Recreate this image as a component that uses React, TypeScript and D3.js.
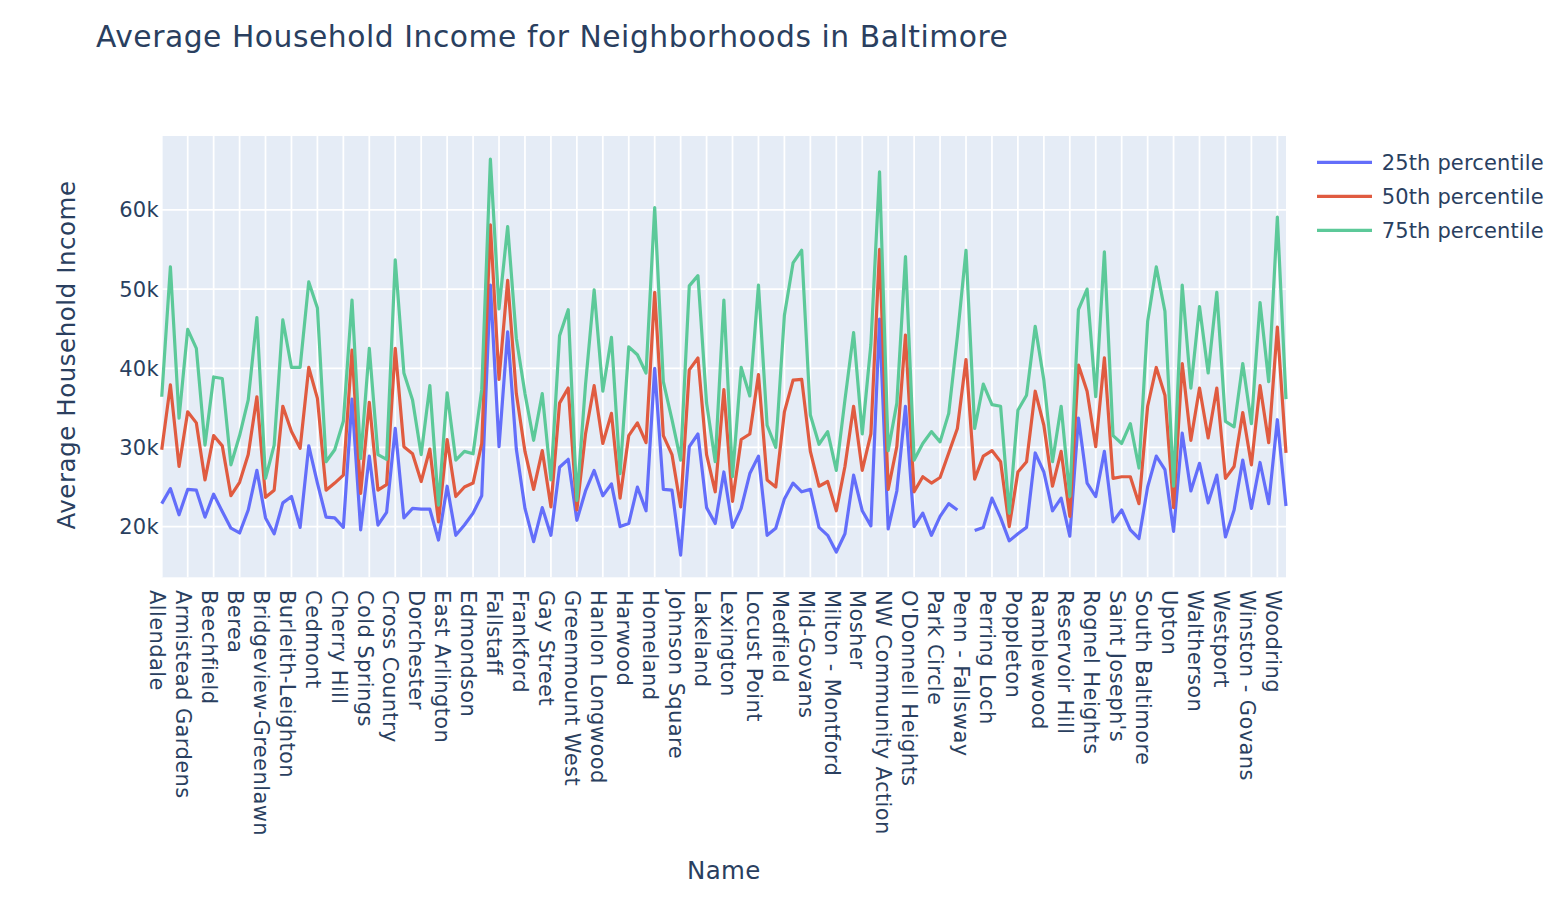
import React, { useRef, useEffect } from "react";
import * as d3 from "d3";

// neighborhoods, in the order they appear on the x axis (every 3rd one is labelled)
const names = [
  "Allendale", "Arcadia", "Arlington", "Armistead Gardens", "Ashburton", "Barclay",
  "Beechfield", "Belair-Edison", "Bellona-Gittings", "Berea", "Beverly Hills", "Bolton Hill",
  "Bridgeview-Greenlawn", "Broadway East", "Brooklyn", "Burleith-Leighton", "Butcher's Hill", "Canton",
  "Cedmont", "Central Park Heights", "Charles Village", "Cherry Hill", "Cheswolde", "Chinquapin Park",
  "Cold Springs", "Coldstream Homestead Montebello", "Coppin Heights", "Cross Country", "Cross Keys", "Dickeyville",
  "Dorchester", "Downtown", "Druid Heights", "East Arlington", "East Baltimore Midway", "Eastwood",
  "Edmondson", "Ednor Gardens", "Evergreen", "Fallstaff", "Federal Hill", "Forest Park",
  "Frankford", "Franklin Square", "Garwyn Oaks", "Gay Street", "Glen", "Govans",
  "Greenmount West", "Guilford", "Hamilton Hills", "Hanlon Longwood", "Harford-Echodale", "Harlem Park",
  "Harwood", "Highlandtown", "Hollins Market", "Homeland", "Howard Park", "Irvington",
  "Johnson Square", "Jonestown", "Lake Evesham", "Lakeland", "Lauraville", "Levindale",
  "Lexington", "Liberty Square", "Loch Raven", "Locust Point", "Loyola/Notre Dame", "Madison Park",
  "Medfield", "Medford", "Mid-Charles", "Mid-Govans", "Middle East", "Midtown-Edmondson",
  "Milton - Montford", "Mondawmin", "Morrell Park", "Mosher", "Mount Vernon", "Mount Washington",
  "NW Community Action", "New Northwood", "Northwood", "O'Donnell Heights", "Oakenshawe", "Oliver",
  "Park Circle", "Patterson Park", "Pen Lucy", "Penn - Fallsway", "Penrose/Fayette Street", "Perkins Homes",
  "Perring Loch", "Pimlico Good Neighbors", "Pleasant View Gardens", "Poppleton", "Purnell", "Radnor-Winston",
  "Ramblewood", "Ravenwood", "Remington", "Reservoir Hill", "Ridgely's Delight", "Riverside",
  "Rognel Heights", "Roland Park", "Rosemont", "Saint Joseph's", "Sandtown-Winchester", "Sharp-Leadenhall",
  "South Baltimore", "Stonewood-Pentwood-Winston", "Union Square", "Upton", "Violetville", "Walbrook",
  "Waltherson", "Washington Village", "Waverly", "Westport", "Wilson Park", "Windsor Hills",
  "Winston - Govans", "Woodberry", "Woodbourne-McCabe", "Woodring", "Yale Heights",
];

// average household income, in thousands of dollars
const p25 = [
  22.9, 24.8, 21.5, 24.7, 24.6, 21.2, 24.1, 21.9, 19.8, 19.2, 22.1, 27.1, 21.1, 19.1, 23.0, 23.8,
  19.9, 30.2, 25.5, 21.2, 21.1, 19.9, 36.1, 19.6, 28.9, 20.2, 21.8, 32.4, 21.1, 22.3, 22.2, 22.2,
  18.3, 25.1, 18.9, 20.2, 21.7, 23.9, 50.5, 30.1, 44.6, 29.8, 22.3, 18.1, 22.4, 18.9, 27.5, 28.5,
  20.8, 24.5, 27.1, 23.9, 25.4, 20.0, 20.4, 25.0, 22.0, 40.0, 24.7, 24.6, 16.4, 30.1, 31.7, 22.4,
  20.4, 26.9, 19.9, 22.3, 26.7, 28.9, 18.9, 19.8, 23.5, 25.5, 24.4, 24.7, 19.9, 18.9, 16.8, 19.1,
  26.5, 22.0, 20.1, 46.2, 19.7, 24.5, 35.2, 20.0, 21.7, 18.9, 21.3, 22.9, 22.1, null, 19.5, 19.9,
  23.6, 21.1, 18.2, 19.1, 19.9, 29.3, 26.9, 22.0, 23.6, 18.8, 33.7, 25.5, 23.8, 29.5, 20.6, 22.1,
  19.6, 18.5, 25.0, 28.9, 27.2, 19.4, 31.8, 24.5, 28.0, 23.0, 26.5, 18.7, 22.1, 28.4, 22.3, 28.1,
  22.9, 33.5, 22.6,
];
const p50 = [
  29.7, 37.9, 27.6, 34.5, 33.1, 25.9, 31.5, 30.2, 23.9, 25.6, 29.1, 36.4, 23.7, 24.6, 35.2, 32.0,
  29.9, 40.1, 36.2, 24.6, 25.5, 26.5, 42.3, 24.2, 35.7, 24.6, 25.3, 42.5, 30.1, 29.2, 25.7, 29.8,
  20.6, 31.0, 23.8, 25.0, 25.5, 30.5, 58.1, 38.6, 51.1, 36.8, 29.5, 24.7, 29.6, 22.5, 35.6, 37.5,
  22.1, 31.7, 37.8, 30.5, 34.3, 23.6, 31.5, 33.1, 30.6, 49.6, 31.5, 29.1, 22.5, 39.8, 41.3, 29.1,
  24.4, 37.3, 23.2, 31.0, 31.7, 39.2, 25.9, 25.0, 34.5, 38.5, 38.6, 29.5, 25.1, 25.7, 22.0, 27.6,
  35.2, 27.1, 31.7, 55.0, 24.7, 30.1, 44.2, 24.4, 26.3, 25.5, 26.2, 29.3, 32.4, 41.1, 26.0, 28.9,
  29.6, 28.2, 20.0, 26.9, 28.2, 37.1, 32.8, 25.1, 29.5, 21.3, 40.4, 37.1, 30.1, 41.3, 26.1, 26.3,
  26.3, 22.9, 35.2, 40.1, 36.6, 22.4, 40.6, 30.9, 37.5, 31.2, 37.5, 26.1, 27.6, 34.4, 27.8, 37.8,
  30.6, 45.2, 29.3,
];
const p75 = [
  36.4, 52.8, 33.7, 44.9, 42.5, 30.3, 38.9, 38.7, 27.8, 31.5, 36.0, 46.4, 26.1, 30.3, 46.1, 40.1,
  40.1, 50.9, 47.6, 28.2, 29.7, 33.3, 48.6, 28.6, 42.5, 29.1, 28.5, 53.7, 39.4, 36.0, 29.1, 37.8,
  22.7, 36.9, 28.4, 29.5, 29.2, 37.3, 66.4, 47.5, 57.9, 43.8, 36.8, 30.9, 36.8, 25.9, 44.1, 47.4,
  23.3, 37.9, 49.9, 37.1, 43.9, 26.7, 42.7, 41.7, 39.4, 60.3, 38.3, 33.5, 28.4, 50.4, 51.7, 35.6,
  28.2, 48.6, 26.3, 40.1, 36.5, 50.5, 32.8, 30.0, 46.7, 53.3, 54.9, 34.1, 30.4, 32.0, 27.1, 36.0,
  44.5, 31.7, 43.0, 64.8, 29.6, 35.6, 54.1, 28.4, 30.5, 32.0, 30.7, 34.3, 44.0, 54.9, 32.4, 38.0,
  35.4, 35.2, 21.7, 34.7, 36.6, 45.3, 38.5, 28.2, 35.2, 23.8, 47.4, 50.0, 36.4, 54.7, 31.5, 30.5,
  33.0, 27.4, 45.9, 52.8, 47.2, 25.1, 50.5, 37.5, 47.8, 39.4, 49.6, 33.3, 32.6, 40.6, 33.0, 48.3,
  38.3, 59.1, 36.1,
];

const seriesNames = ["25th percentile", "50th percentile", "75th percentile"];
const seriesColors = ["#636efa", "#e05b40", "#5cc999"];
const yTicks = [20000, 30000, 40000, 50000, 60000];

const App: React.FC = () => {
  const svgRef = useRef<SVGSVGElement | null>(null);

  useEffect(() => {
    if (!svgRef.current) return;
    document.body.style.margin = "0";

    const width = 1560;
    const height = 904;
    const left = 161.75, right = 1286, top = 136, bottom = 577.3;
    const textColor = "#2a3f5f";
    const font = "'DejaVu Sans', Verdana, sans-serif";

    const svg = d3.select(svgRef.current);
    svg.selectAll("*").remove();
    svg.attr("width", width).attr("height", height)
      .attr("viewBox", `0 0 ${width} ${height}`)
      .style("font-family", font);

    const x = d3.scalePoint<string>().domain(names).range([left, right]);
    const y = d3.scaleLinear().domain([13600, 69330]).range([bottom, top]);

    // plot background
    svg.append("rect")
      .attr("x", left).attr("y", top)
      .attr("width", right - left).attr("height", bottom - top)
      .attr("fill", "#e5ecf6");

    const labelled = names.filter((_, i) => i % 3 === 0);

    // grid
    svg.append("g").selectAll("line")
      .data(labelled)
      .join("line")
      .attr("x1", d => x(d)!).attr("x2", d => x(d)!)
      .attr("y1", top).attr("y2", bottom)
      .attr("stroke", "#fff").attr("stroke-width", 1.75);
    svg.append("g").selectAll("line")
      .data(yTicks)
      .join("line")
      .attr("x1", left).attr("x2", right)
      .attr("y1", d => y(d)).attr("y2", d => y(d))
      .attr("stroke", "#fff").attr("stroke-width", 1.75);

    // lines
    const all = [p25, p50, p75];
    const line = d3.line<number | null>()
      .defined(d => d !== null)
      .x((_, i) => x(names[i])!)
      .y(d => y((d as number) * 1000));
    svg.append("g")
      .selectAll("path")
      .data(all)
      .join("path")
      .attr("d", d => line(d))
      .attr("fill", "none")
      .attr("stroke", (_, i) => seriesColors[i])
      .attr("stroke-width", 3.2)
      .attr("stroke-linejoin", "round");

    // y tick labels
    const fmt = d3.format("~s");
    svg.append("g").selectAll("text")
      .data(yTicks)
      .join("text")
      .attr("x", 159).attr("y", d => y(d))
      .attr("dy", "0.36em")
      .attr("text-anchor", "end")
      .attr("font-size", 21)
      .attr("letter-spacing", 0.3)
      .attr("fill", textColor)
      .text(d => fmt(d));

    // x tick labels, rotated
    svg.append("g").selectAll("text")
      .data(labelled)
      .join("text")
      .attr("transform", d => `translate(${x(d)},590) rotate(90)`)
      .attr("dy", 11.75)
      .attr("text-anchor", "start")
      .attr("font-size", 21)
      .attr("letter-spacing", 0.4)
      .attr("fill", textColor)
      .text(d => d);

    // titles
    svg.append("text")
      .attr("x", 96).attr("y", 46.7)
      .attr("font-size", 29.75)
      .attr("letter-spacing", 0.54)
      .attr("fill", textColor)
      .text("Average Household Income for Neighborhoods in Baltimore");
    svg.append("text")
      .attr("transform", "translate(75,355) rotate(-90)")
      .attr("text-anchor", "middle")
      .attr("font-size", 24.5)
      .attr("letter-spacing", 0.55)
      .attr("fill", textColor)
      .text("Average Household Income");
    svg.append("text")
      .attr("x", (left + right) / 2).attr("y", 879)
      .attr("text-anchor", "middle")
      .attr("font-size", 24.5)
      .attr("letter-spacing", 0.4)
      .attr("fill", textColor)
      .text("Name");

    // legend
    const legend = svg.append("g").selectAll("g")
      .data(seriesNames)
      .join("g")
      .attr("transform", (_, i) => `translate(0,${162.3 + i * 34})`);
    legend.append("line")
      .attr("x1", 1317).attr("x2", 1372)
      .attr("stroke", (_, i) => seriesColors[i])
      .attr("stroke-width", 3.2);
    legend.append("text")
      .attr("x", 1381.7).attr("y", 7.6)
      .attr("font-size", 21)
      .attr("letter-spacing", 0.15)
      .attr("fill", textColor)
      .text(d => d);
  }, []);

  return <svg ref={svgRef} />;
};

export default App;
